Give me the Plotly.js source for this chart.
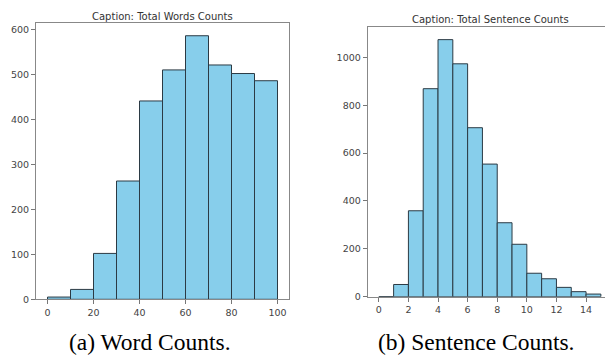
<!DOCTYPE html>
<html>
<head>
<meta charset="utf-8">
<script src="https://cdn.plot.ly/plotly-3.0.1.min.js"></script>
<style>html,body{margin:0;padding:0;background:#fff;}#chart{width:605px;height:356px;}</style>
</head>
<body>
<div id="chart"></div>
<script>
// Word counts histogram (bin start, bin width 10)
const wordBinStarts = [0, 10, 20, 30, 40, 50, 60, 70, 80, 90];
const wordBinWidth = 10;
const wordCounts = [5, 22, 102, 263, 441, 510, 586, 521, 502, 486];

// Sentence counts histogram (bin start, bin width 1)
const sentBinStarts = [0, 1, 2, 3, 4, 5, 6, 7, 8, 9, 10, 11, 12, 13, 14];
const sentBinWidth = 1;
const sentCounts = [0, 51, 359, 869, 1074, 973, 706, 554, 309, 219, 98, 75, 39, 21, 11];

const leftTitle = "Caption: Total Words Counts";
const rightTitle = "Caption: Total Sentence Counts";
const leftCaption = "(a) Word Counts.";
const rightCaption = "(b) Sentence Counts.";

const W = 605, H = 356;
const px = v => v / W;
const py = v => 1 - v / H;

const barStyle = {color: '#87CEEB', line: {color: '#2b3a44', width: 1}};

const traces = [
  {type: 'bar', x: wordBinStarts.map(s => s + wordBinWidth / 2), y: wordCounts,
   width: wordBinWidth, marker: barStyle, xaxis: 'x', yaxis: 'y', hoverinfo: 'skip'},
  {type: 'bar', x: sentBinStarts.map(s => s + sentBinWidth / 2), y: sentCounts,
   width: sentBinWidth, marker: barStyle, xaxis: 'x2', yaxis: 'y2', hoverinfo: 'skip'}
];

const tickFont = {family: 'DejaVu Sans', size: 9.5, color: '#444'};
const axCommon = {
  showgrid: false, zeroline: false, showline: true, linecolor: '#888', linewidth: 1,
  ticks: 'outside', ticklen: 4, tickcolor: '#777', tickfont: tickFont, fixedrange: true
};

const layout = {
  width: W, height: H,
  margin: {l: 0, r: 0, t: 0, b: 0},
  paper_bgcolor: '#fff', plot_bgcolor: '#fff',
  showlegend: false, bargap: 0,
  xaxis: Object.assign({}, axCommon, {domain: [px(36), px(289)], range: [-5, 105],
    tickvals: [0, 20, 40, 60, 80, 100], mirror: true, anchor: 'y'}),
  yaxis: Object.assign({}, axCommon, {domain: [py(299.3), py(22.7)], range: [0, 615],
    tickvals: [0, 100, 200, 300, 400, 500, 600], mirror: true, anchor: 'x'}),
  xaxis2: Object.assign({}, axCommon, {domain: [px(367.7), 1], range: [-0.75, 15.28],
    tickvals: [0, 2, 4, 6, 8, 10, 12, 14], mirror: true, anchor: 'y2'}),
  yaxis2: Object.assign({}, axCommon, {domain: [py(296.7), py(26.7)], range: [0, 1128],
    tickvals: [0, 200, 400, 600, 800, 1000], mirror: false, anchor: 'x2'}),
  annotations: [
    {text: leftTitle, xref: 'paper', yref: 'paper', x: px(162.5), y: py(16),
     xanchor: 'center', yanchor: 'middle', showarrow: false,
     font: {family: 'DejaVu Sans', size: 10, color: '#333'}},
    {text: rightTitle, xref: 'paper', yref: 'paper', x: px(490), y: py(19.5),
     xanchor: 'center', yanchor: 'middle', showarrow: false,
     font: {family: 'DejaVu Sans', size: 10, color: '#333'}},
    {text: leftCaption, xref: 'paper', yref: 'paper', x: px(150), y: py(342),
     xanchor: 'center', yanchor: 'middle', showarrow: false,
     font: {family: 'Liberation Serif', size: 23.5, color: '#000'}},
    {text: rightCaption, xref: 'paper', yref: 'paper', x: px(476), y: py(342),
     xanchor: 'center', yanchor: 'middle', showarrow: false,
     font: {family: 'Liberation Serif', size: 23.5, color: '#000'}}
  ]
};

Plotly.newPlot('chart', traces, layout, {staticPlot: true, displayModeBar: false});
</script>
</body>
</html>
